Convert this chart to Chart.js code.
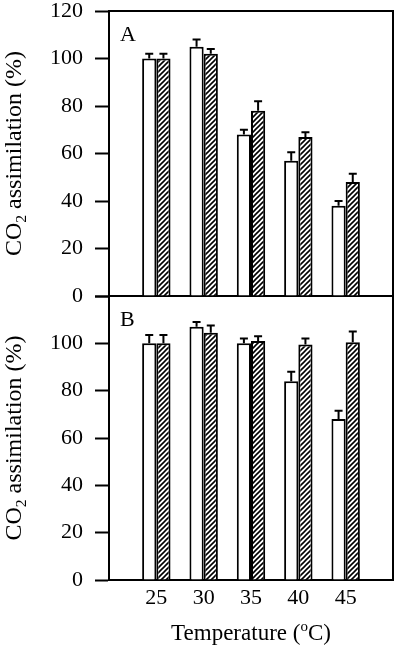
<!DOCTYPE html>
<html lang="en">
<head>
<meta charset="UTF-8">
<title>CO2 assimilation vs temperature</title>
<script src="https://cdn.jsdelivr.net/npm/chart.js"></script>
<style>
  body { margin: 0; background: #fff; }
  .panel { position: absolute; left: 0; width: 400px; }
  #wrapA { top: 0; height: 310px; }
  #wrapB { top: 286px; height: 361px; }
</style>
</head>
<body>
<div class="panel" id="wrapA"><canvas id="chartA"></canvas></div>
<div class="panel" id="wrapB"><canvas id="chartB"></canvas></div>
<script>
// temperatures (°C)
const temps = ['25', '30', '35', '40', '45'];
const yTicks = [0, 20, 40, 60, 80, 100, 120];

// panel A
const aOpen = [100, 105, 68, 57, 38];
const aOpenErr = [2, 3, 2, 3.5, 2];
const aHatch = [100, 102, 78, 67, 48];
const aHatchErr = [2, 2, 4, 2, 3.5];

// panel B
const bOpen = [100, 107, 100, 84, 68];
const bOpenErr = [3.5, 2, 2, 4, 3.5];
const bHatch = [100, 104.5, 101, 99.5, 100.5];
const bHatchErr = [3.5, 3, 2, 2.5, 4.5];

Chart.defaults.font.family = '"Liberation Serif", "Times New Roman", serif';
Chart.defaults.color = '#000';

// empty slots at both ends so the axis runs from 20 to 50
const labels = ['', ...temps, ''];
const pad = arr => [null, ...arr, null];

function hatch() {
    const c = document.createElement('canvas');
    const s = 5;
    c.width = s; c.height = s;
    const g = c.getContext('2d');
    g.fillStyle = '#fff';
    g.fillRect(0, 0, s, s);
    g.strokeStyle = '#000';
    g.lineWidth = 1.6;
    g.beginPath();
    g.moveTo(0, s); g.lineTo(s, 0);
    g.moveTo(-1, 1); g.lineTo(1, -1);
    g.moveTo(s - 1, s + 1); g.lineTo(s + 1, s - 1);
    g.stroke();
    return g.createPattern(c, 'repeat');
}

// draws text pieces [text, yShift, sizeFactor] centred on 0
function richText(ctx, parts, size) {
    let widths = parts.map(p => {
        ctx.font = (size * p[2]) + 'px "Liberation Serif"';
        return ctx.measureText(p[0]).width;
    });
    let x = -widths.reduce((a, b) => a + b, 0) / 2;
    ctx.textBaseline = 'alphabetic';
    ctx.textAlign = 'left';
    parts.forEach((p, i) => {
        ctx.font = (size * p[2]) + 'px "Liberation Serif"';
        ctx.fillText(p[0], x, p[1]);
        x += widths[i];
    });
}

const errorBars = {
    id: 'errorBars',
    afterDatasetsDraw(chart) {
        const ctx = chart.ctx, y = chart.scales.y;
        ctx.save();
        ctx.strokeStyle = '#000';
        ctx.lineWidth = 2;
        chart.data.datasets.forEach((ds, i) => {
            chart.getDatasetMeta(i).data.forEach((bar, j) => {
                const v = ds.data[j];
                if (v == null) return;
                const top = y.getPixelForValue(v + ds.errors[j]);
                ctx.beginPath();
                ctx.moveTo(bar.x, bar.y);
                ctx.lineTo(bar.x, top);
                ctx.moveTo(bar.x - 4, top);
                ctx.lineTo(bar.x + 4, top);
                ctx.stroke();
            });
        });
        ctx.restore();
    }
};

const frame = {
    id: 'frame',
    afterDraw(chart, args, opts) {
        const ctx = chart.ctx, a = chart.chartArea;
        ctx.save();
        ctx.strokeStyle = '#000';
        ctx.lineWidth = 2;
        ctx.beginPath();
        if (opts.top) {
            ctx.moveTo(a.left - 1, a.top);
            ctx.lineTo(a.right + 1, a.top);
        }
        ctx.moveTo(a.right, a.top - 1);
        ctx.lineTo(a.right, a.bottom + 1);
        ctx.stroke();

        ctx.fillStyle = '#000';
        ctx.font = '22px "Liberation Serif"';
        ctx.textBaseline = 'middle';
        ctx.textAlign = 'left';
        ctx.fillText(opts.letter, a.left + 11, a.top + 24);

        ctx.save();
        ctx.translate(21, (a.top + a.bottom) / 2);
        ctx.rotate(-Math.PI / 2);
        richText(ctx, [['CO', 0, 1], ['2', 5, 0.65], [' assimilation (%)', 0, 1]], 24);
        ctx.restore();

        if (opts.xTitle) {
            ctx.save();
            ctx.translate((a.left + a.right) / 2, a.bottom + 60);
            richText(ctx, [['Temperature (', 0, 1], ['o', -9, 0.65], ['C)', 0, 1]], 23);
            ctx.restore();
        }
        ctx.restore();
    }
};

function makePanel(id, open, openErr, hatched, hatchedErr, opts) {
    const isB = opts.letter === 'B';
    return new Chart(document.getElementById(id), {
        type: 'bar',
        data: {
            labels: labels,
            datasets: [{
                data: pad(open),
                errors: pad(openErr),
                backgroundColor: '#fff',
                borderColor: '#000',
                borderWidth: 2
            }, {
                data: pad(hatched),
                errors: pad(hatchedErr),
                backgroundColor: hatch(),
                borderColor: '#000',
                borderWidth: 2
            }]
        },
        options: {
            responsive: true,
            maintainAspectRatio: false,
            animation: false,
            categoryPercentage: 0.6,
            barPercentage: 1,
            layout: { padding: { top: isB ? 10 : 11, right: 7, left: 0, bottom: 0 } },
            plugins: {
                legend: { display: false },
                tooltip: { enabled: false },
                frame: opts
            },
            scales: {
                x: {
                    offset: false,
                    grid: { display: false, drawTicks: false },
                    border: { display: true, color: '#000', width: 2 },
                    ticks: {
                        display: isB,
                        font: { size: 22 },
                        padding: 5,
                        maxRotation: 0,
                        autoSkip: false
                    },
                    afterFit: s => {
                        s.height = isB ? 67 : 14;
                        s.paddingLeft = 0;
                        s.paddingRight = 0;
                    }
                },
                y: {
                    min: 0,
                    max: 120,
                    afterBuildTicks: s => { s.ticks = yTicks.map(v => ({ value: v })); },
                    grid: {
                        drawOnChartArea: false,
                        tickLength: 14,
                        tickColor: '#000',
                        tickWidth: 2
                    },
                    border: { display: true, color: '#000', width: 2 },
                    ticks: {
                        font: { size: 22 },
                        padding: 12,
                        callback: v => (isB && v === 120) ? '' : v
                    },
                    afterFit: s => {
                        s.width = 109;
                        s.paddingTop = 0;
                        s.paddingBottom = 0;
                    }
                }
            }
        },
        plugins: [errorBars, frame]
    });
}

makePanel('chartA', aOpen, aOpenErr, aHatch, aHatchErr, { letter: 'A', top: true, xTitle: false });
makePanel('chartB', bOpen, bOpenErr, bHatch, bHatchErr, { letter: 'B', top: false, xTitle: true });
</script>
</body>
</html>
